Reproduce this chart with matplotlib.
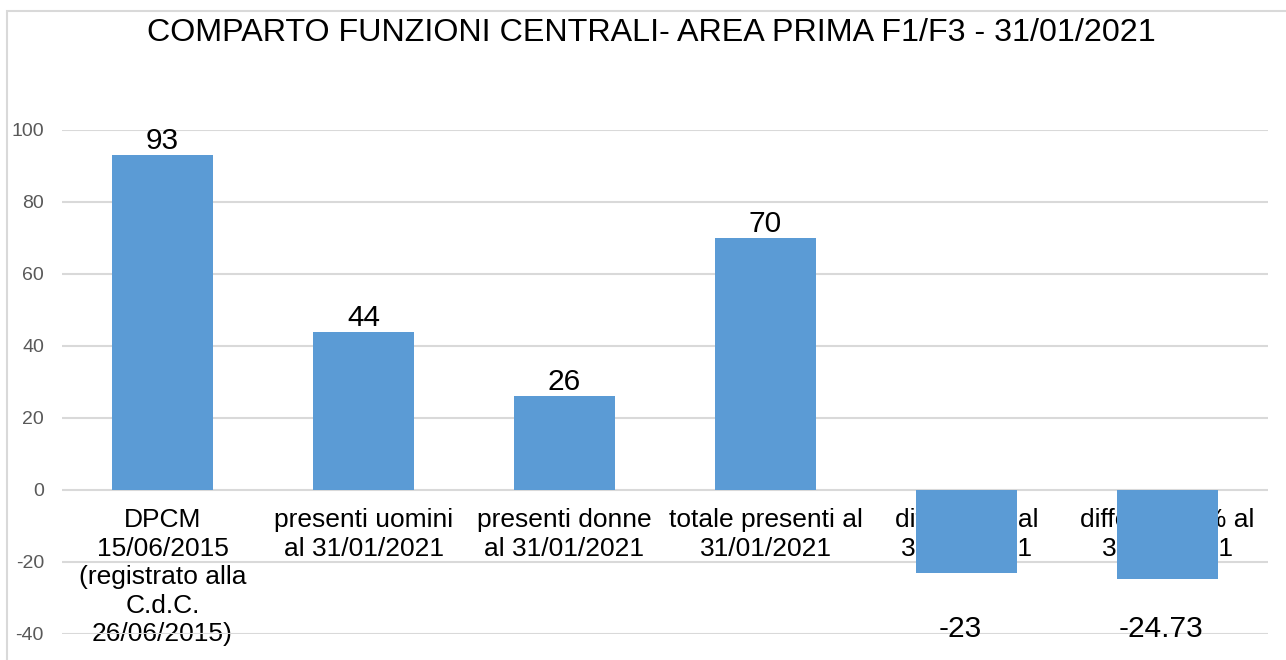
import matplotlib.pyplot as plt
from matplotlib.patches import Rectangle
from matplotlib.ticker import FuncFormatter

plt.rcParams['font.family'] = ['Liberation Sans', 'DejaVu Sans']

title = 'COMPARTO FUNZIONI CENTRALI- AREA PRIMA F1/F3 - 31/01/2021'
categories = [
    'DPCM\n15/06/2015\n(registrato alla\nC.d.C.\n26/06/2015)',
    'presenti uomini\nal 31/01/2021',
    'presenti donne\nal 31/01/2021',
    'totale presenti al\n31/01/2021',
    'differenza al\n31/01/2021',
    'differenza % al\n31/01/2021',
]
values = [93, 44, 26, 70, -23, -24.73]
value_labels = ['93', '44', '26', '70', '-23', '-24.73']
yticks = [-40, -20, 0, 20, 40, 60, 80, 100]

bar_color = '#5b9bd5'
grid_color = '#d9d9d9'

fig = plt.figure(figsize=(12.86, 6.6), dpi=100)
fig.patches.append(Rectangle((7 / 1286, -0.1), 1.2, 1.1 - 11 / 660,
                             transform=fig.transFigure, fill=False,
                             edgecolor=grid_color, lw=1.5))

ax = fig.add_axes([62 / 1286, 26 / 660, 1206 / 1286, 504 / 660])
x = list(range(len(values)))

ax.bar(x, values, width=0.5, color=bar_color, zorder=3)

# category labels sit inside the plot, under the grid and bars
for xi, lab in zip(x, categories):
    ax.text(xi, -5.0, lab, ha='center', va='top', fontsize=19,
            color='black', zorder=0.2, linespacing=1.24)

for xi, v, lab in zip(x, values, value_labels):
    if v >= 0:
        ax.annotate(lab, (xi, v), xytext=(0, 0), textcoords='offset points',
                    ha='center', va='bottom', fontsize=21.5)
    else:
        ax.text(xi - 0.03, -38.5, lab, ha='center', va='center', fontsize=21.5)

ax.set_xlim(-0.5, len(values) - 0.5)
ax.set_ylim(-40, 100)
ax.set_yticks(yticks)
ax.yaxis.set_major_formatter(FuncFormatter(lambda v, p: f'{v:.0f}'))
ax.set_xticks([])
ax.tick_params(axis='y', length=0, labelsize=14, labelcolor='#595959', pad=13)
ax.set_axisbelow(True)
ax.yaxis.grid(True, color=grid_color, lw=1.5, zorder=1)
for s in ax.spines.values():
    s.set_visible(False)
ax.patch.set_alpha(0)

fig.text(651 / 1286, 1 - 33 / 660, title, ha='center', va='center', fontsize=23.2)

fig.savefig('out.png', dpi=100)
